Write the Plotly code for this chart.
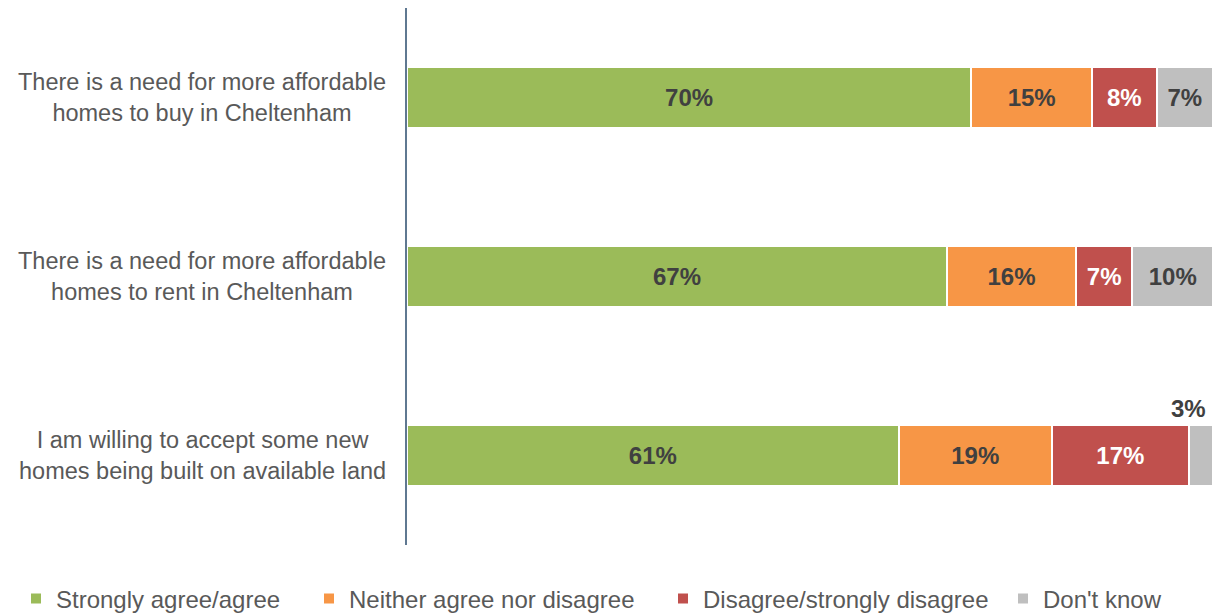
import plotly.graph_objects as go

categories = [
    "There is a need for more affordable<br>homes to buy in Cheltenham",
    "There is a need for more affordable<br>homes to rent in Cheltenham",
    "I am willing to accept some new<br>homes being built on available land",
]
series_names = [
    "Strongly agree/agree",
    "Neither agree nor disagree",
    "Disagree/strongly disagree",
    "Don't know",
]
values = [
    [70, 67, 61],
    [15, 16, 19],
    [8, 7, 17],
    [7, 10, 3],
]
colors = ["#9BBB59", "#F79646", "#C0504D", "#BFBFBF"]
label_colors = ["#404040", "#404040", "#FFFFFF", "#404040"]

FONT = "Liberation Sans, Arial, sans-serif"
# segments too narrow for an inside label get one placed above the bar
min_inside = 5

# one legend per series so the entries can be spaced along the bottom edge
legend_ids = ["legend", "legend2", "legend3", "legend4"]
legend_x_px = [16, 309, 663, 1003]

fig = go.Figure()
for name, vals, col, lcol, lid in zip(series_names, values, colors, label_colors, legend_ids):
    texts = [f"{v}%" if v >= min_inside else "" for v in vals]
    fig.add_trace(go.Bar(
        y=categories, x=vals, name=name, orientation="h", legend=lid,
        marker=dict(color=col, line=dict(color="white", width=2)),
        text=texts, textposition="inside", insidetextanchor="middle",
        textangle=0,
        textfont=dict(family=FONT, size=24, color=lcol, weight="bold"),
        hoverinfo="skip",
    ))

for i, cat in enumerate(categories):
    # centred, two-line category label left of the axis
    fig.add_annotation(
        x=0, xref="paper", y=cat, text=cat, showarrow=False,
        xanchor="right", xshift=-19, align="center",
        font=dict(family=FONT, size=23.5, color="#595959"),
    )
    for s, vals in enumerate(values):
        if vals[i] < min_inside:
            start = sum(values[k][i] for k in range(s))
            fig.add_annotation(
                x=start, y=cat, text=f"{vals[i]}%", showarrow=False,
                yshift=47, xanchor="center",
                font=dict(family=FONT, size=24, color="#404040", weight="bold"),
            )

W, H = 1215, 614
legend_style = {}
for lid, px in zip(legend_ids, legend_x_px):
    legend_style[lid] = dict(
        orientation="h", xref="container", yref="container",
        x=px / W, xanchor="left", y=(H - 599) / H, yanchor="middle",
        font=dict(family=FONT, size=24, color="#595959"),
        itemwidth=30, bgcolor="rgba(0,0,0,0)",
    )

fig.update_layout(
    width=W, height=H,
    barmode="stack", bargap=0.66,
    margin=dict(l=407, r=2, t=8, b=69),
    plot_bgcolor="white", paper_bgcolor="white",
    font=dict(family=FONT, size=23, color="#595959"),
    showlegend=True,
    uniformtext=dict(minsize=8, mode="show"),
    **legend_style,
)
fig.update_xaxes(range=[0, 100], visible=False, fixedrange=True)
fig.update_yaxes(
    autorange="reversed", showline=True, linecolor="#5F7891", linewidth=2,
    showgrid=False, ticks="", showticklabels=False,
)

fig.write_html("out.html")
